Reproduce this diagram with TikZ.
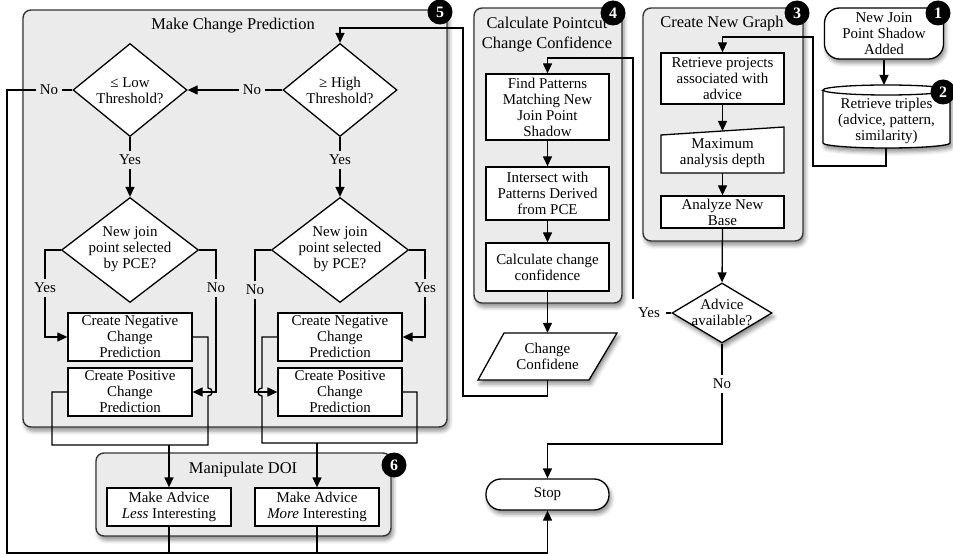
\documentclass[tikz,border=0pt]{standalone}
\usepackage{fontspec}
\setmainfont{Liberation Serif}
\usetikzlibrary{arrows.meta,shapes.geometric,shadows.blur}
\definecolor{grp}{RGB}{235,235,235}
\definecolor{brd}{RGB}{55,55,55}
\begin{document}
\begin{tikzpicture}[x=1bp,y=-1bp,
  every node/.style={font=\fontsize{15}{16}\selectfont},
  line/.style={draw=black, line width=1.3bp},
  arr/.style={line, -{Triangle[length=10bp,width=9bp]}},
  shad/.style={blur shadow={shadow xshift=2bp, shadow yshift=-4bp, shadow blur radius=4bp, shadow opacity=45}},
  grpbox/.style={draw=brd, line width=1.4bp, fill=grp, rounded corners=8bp, inner sep=0, shad},
  title/.style={font=\fontsize{16.5}{20}\selectfont, align=center, inner sep=0},
  procbox/.style={draw=black, line width=1.3bp, fill=white, inner sep=0, align=center},
  txt/.style={inner sep=0, align=center},
  dia/.style={draw=black, line width=1.3bp, fill=white, shape=diamond, inner sep=0},
  lbl/.style={fill=grp, inner sep=4bp},
  lblw/.style={fill=white, inner sep=4bp},
  badge/.style={circle, fill=black, text=white, inner sep=0, minimum size=25bp, font=\bfseries\fontsize{16}{16}\selectfont}
]
\useasboundingbox (0,0) rectangle (953,556);

% ---------- groups ----------
\node[grpbox, minimum width=424bp, minimum height=417bp] (gmcp) at (235,218.5) {};
\node[grpbox, minimum width=295bp, minimum height=83bp] (gdoi) at (243.5,494.5) {};
\node[grpbox, minimum width=148bp, minimum height=295bp] (gpcc) at (548,155.5) {};
\node[grpbox, minimum width=160bp, minimum height=233bp] (gcng) at (723,124.5) {};

\node[title] (tmcp) at (233,26) {Make Change Prediction};
\node[title] (tdoi) at (243,470) {Manipulate DOI};
\node[title] (tpcc) at (547,35) {Calculate Pointcut\\Change Confidence};
\node[title] (tcng) at (722,24) {Create New Graph};

% ---------- Make Change Prediction ----------
\node[dia, minimum width=114bp, minimum height=93bp] (dlow) at (130,90) {};
\node[txt] (tlow) at (130,90.5) {≤ Low\\Threshold?};
\node[dia, minimum width=114bp, minimum height=93bp] (dhigh) at (340,90) {};
\node[txt] (thigh) at (340,90.5) {≥ High\\Threshold?};
\node[dia, minimum width=137bp, minimum height=105bp] (dsel1) at (130,250) {};
\node[txt] (tsel1) at (130,249) {New join\\point selected\\by PCE?};
\node[dia, minimum width=137bp, minimum height=105bp] (dsel2) at (340,250) {};
\node[txt] (tsel2) at (340,249) {New join\\point selected\\by PCE?};

\node[procbox, minimum width=124bp, minimum height=48bp] (neg1) at (130,337) {Create Negative\\Change\\Prediction};
\node[procbox, minimum width=124bp, minimum height=48bp] (pos1) at (130,392) {Create Positive\\Change\\Prediction};
\node[procbox, minimum width=124bp, minimum height=48bp] (neg2) at (340,337) {Create Negative\\Change\\Prediction};
\node[procbox, minimum width=124bp, minimum height=48bp] (pos2) at (340,392) {Create Positive\\Change\\Prediction};

% ---------- Manipulate DOI ----------
\node[procbox, minimum width=124bp, minimum height=38bp] (less) at (169,507) {Make Advice\\\textit{Less} Interesting};
\node[procbox, minimum width=124bp, minimum height=38bp] (more) at (317,507) {Make Advice\\\textit{More} Interesting};

% ---------- Calculate Pointcut Change Confidence ----------
\node[procbox, minimum width=123bp, minimum height=66bp] (find) at (547.5,107) {Find Patterns\\Matching New\\Join Point\\Shadow};
\node[procbox, minimum width=123bp, minimum height=53bp] (inter) at (547.5,193.5) {Intersect with\\Patterns Derived\\from PCE};
\node[procbox, minimum width=123bp, minimum height=48bp] (calc) at (547.5,267) {Calculate change\\confidence};
\draw[line, fill=white, shad] (504,333) -- (617,333) -- (589,380) -- (478,380) -- cycle;
\node[txt, minimum width=113bp, minimum height=47bp] (conf) at (547.5,356.5) {Change\\Confidene};

% ---------- Create New Graph ----------
\node[procbox, minimum width=123bp, minimum height=51bp] (retr) at (722.5,78.5) {Retrieve projects\\associated with\\advice};
\draw[line, fill=white] (661,135) -- (784,127) -- (784,173) -- (661,173) -- cycle;
\coordinate (maxdtop) at (722.5,131);
\node[txt, minimum width=123bp, minimum height=40bp] (maxd) at (722.5,153) {Maximum\\analysis depth};
\node[procbox, minimum width=123bp, minimum height=32bp] (anlz) at (722.5,212) {Analyze New\\Base};

\node[dia, minimum width=100bp, minimum height=60bp, shad] (dadv) at (722,313) {};
\node[txt] (tadv) at (722,312.5) {Advice\\available?};

\node[procbox, rounded corners=15bp, minimum width=123bp, minimum height=31bp, shad] (stop) at (547.5,494.5) {Stop};

% ---------- start ----------
\node[procbox, rounded corners=15bp, minimum width=119bp, minimum height=51bp, shad] (newjp) at (884,33.5) {New Join\\Point Shadow\\Added};
\draw[line, fill=white, shad] (823,90) -- (823,143) arc[start angle=180,end angle=360,x radius=63.5bp,y radius=5bp] -- (950,90) arc[start angle=0,end angle=180,x radius=63.5bp,y radius=5bp] -- cycle;
\draw[line] (823,90) arc[start angle=180,end angle=360,x radius=63.5bp,y radius=5bp];
\coordinate (cyltop) at (884,85);
\coordinate (cylbot) at (886,148);
\node[txt] (cyl) at (886.5,121) {Retrieve triples\\(advice, pattern,\\similarity)};

% ---------- connectors ----------
\draw[arr] (newjp.south) -- (cyltop);
\draw[arr] (cylbot) -- (886,166) -- (813,166) -- (813,37) -- (722.5,37) -- (retr.north);
\draw[arr] (retr.south) -- (maxdtop);
\draw[arr] (maxd.south) -- (anlz.north);
\draw[arr] (anlz.south) -- (dadv.north);
\draw[arr] (dadv.west) -- (633,313) -- (633,58) -- (547.5,58) -- (find.north);
\draw[arr] (dadv.south) -- (722,444) -- (547.5,444) -- (stop.north);
\draw[arr] (find.south) -- (inter.north);
\draw[arr] (inter.south) -- (calc.north);
\draw[arr] (calc.south) -- (conf.north);
\draw[arr] (conf.south) -- (547.5,396) -- (463,396) -- (463,28) -- (340,28) -- (dhigh.north);

\draw[arr] (dhigh.west) -- (dlow.east);
\draw[arr] (dlow.west) -- (7,90) -- (7,553) -- (547.5,553) -- (stop.south);
\draw[arr] (dlow.south) -- (dsel1.north);
\draw[arr] (dhigh.south) -- (dsel2.north);

\draw[arr] (dsel1.west) -- (45,250) -- (45,337) -- (neg1.west);
\draw[arr] (dsel1.east) -- (216,250) -- (216,392) -- (pos1.east);
\draw[arr] (dsel2.east) -- (425,250) -- (425,337) -- (neg2.east);
\draw[arr] (dsel2.west) -- (255,250) -- (255,392) -- (pos2.west);

\draw[line] (neg1.east) -- (208,337) -- (208,388) .. controls (213.5,388) and (213.5,396) .. (208,396) -- (208,445) -- (52,445) -- (52,392) -- (pos1.west);
\draw[arr] (169,445) -- (less.north);
\draw[line] (neg2.west) -- (262,337) -- (262,388) .. controls (256.5,388) and (256.5,396) .. (262,396) -- (262,443) -- (417,443) -- (417,392) -- (pos2.east);
\draw[arr] (317,443) -- (more.north);
\draw[line] (less.south) -- (169,553);
\draw[line] (more.south) -- (317,553);

% ---------- labels ----------
\node[lbl] (l1) at (49,90) {No};
\node[lbl] (l2) at (252,90) {No};
\node[lbl] (l3) at (130,160) {Yes};
\node[lbl] (l4) at (340,160) {Yes};
\node[lbl] (l5) at (45,288) {Yes};
\node[lbl] (l6) at (216,288) {No};
\node[lbl] (l7) at (255,290) {No};
\node[lbl] (l8) at (425,288) {Yes};
\node[lblw, minimum width=34bp, minimum height=28bp] (l9) at (649,313) {Yes};
\node[lblw] (l10) at (722,384) {No};

% ---------- badges ----------
\node[badge] (b1) at (938,13) {1};
\node[badge] (b2) at (943,92) {2};
\node[badge] (b3) at (797,13) {3};
\node[badge] (b4) at (613,13) {4};
\node[badge] (b5) at (440,12) {5};
\node[badge] (b6) at (394,465) {6};
\end{tikzpicture}
\end{document}
